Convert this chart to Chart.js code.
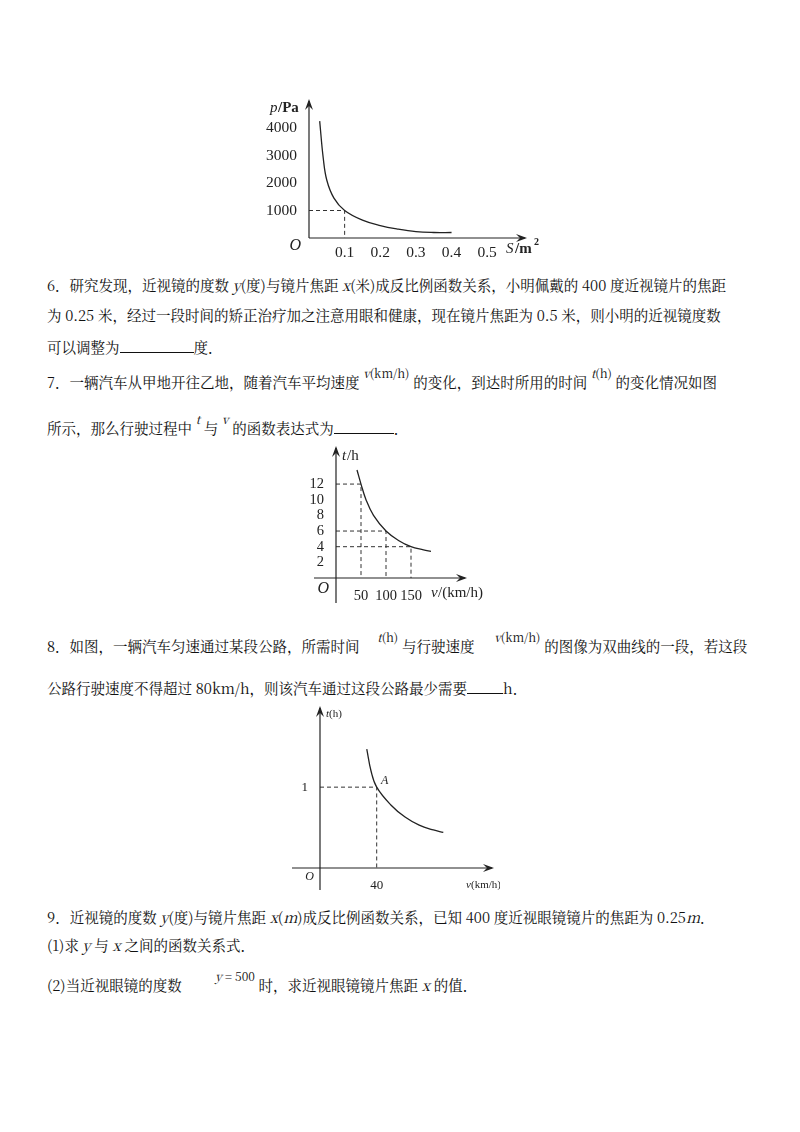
<!DOCTYPE html>
<html><head><meta charset="utf-8">
<script src="https://cdn.jsdelivr.net/npm/chart.js@4"></script>
<style>
body{margin:0;width:800px;height:1132px;background:#fff;position:relative;font-family:"Noto Serif CJK SC","Noto Sans CJK SC",serif;color:#111}
.t{position:absolute;left:47px;font-size:14.5px;white-space:nowrap;line-height:20px}
.u{display:inline-block;border-bottom:1px solid #111;height:15px;vertical-align:baseline}
.c{position:absolute}
.sm{font-size:12px;position:relative;top:-10px}
</style></head><body>
<div class="c" style="left:255px;top:95px;width:290px;height:170px"><canvas id="c1"></canvas></div>
<div class="c" style="left:300px;top:445px;width:200px;height:160px"><canvas id="c2"></canvas></div>
<div class="c" style="left:270px;top:705px;width:230px;height:185px"><canvas id="c3"></canvas></div>

<div class="t" style="top:275px">6．研究发现，近视镜的度数 <i>y</i>(度)与镜片焦距 <i>x</i>(米)成反比例函数关系，小明佩戴的 400 度近视镜片的焦距</div>
<div class="t" style="top:305px">为 0.25 米，经过一段时间的矫正治疗加之注意用眼和健康，现在镜片焦距为 0.5 米，则小明的近视镜度数</div>
<div class="t" style="top:337px">可以调整为<span class="u" style="width:74px"></span>度．</div>
<div class="t" style="top:372px">7．一辆汽车从甲地开往乙地，随着汽车平均速度 <span class="sm"><i>v</i>(km/h)</span> 的变化，到达时所用的时间 <span class="sm"><i>t</i>(h)</span> 的变化情况如图</div>
<div class="t" style="top:418px">所示，那么行驶过程中 <span class="sm"><i>t</i></span> 与 <span class="sm"><i>v</i></span> 的函数表达式为<span class="u" style="width:60px"></span>．</div>
<div class="t" style="top:636px">8．如图，一辆汽车匀速通过某段公路，所需时间 <span class="sm" style="margin-left:14px"><i>t</i>(h)</span> 与行驶速度 <span class="sm" style="margin-left:16px"><i>v</i>(km/h)</span> 的图像为双曲线的一段，若这段</div>
<div class="t" style="top:678px">公路行驶速度不得超过 80km/h，则该汽车通过这段公路最少需要<span class="u" style="width:36px"></span>h．</div>
<div class="t" style="top:907px">9．近视镜的度数 <i>y</i>(度)与镜片焦距 <i>x</i>(<i>m</i>)成反比例函数关系，已知 400 度近视眼镜镜片的焦距为 0.25<i>m</i>．</div>
<div class="t" style="top:935px">(1)求 <i>y</i> 与 <i>x</i> 之间的函数关系式．</div>
<div class="t" style="top:975px">(2)当近视眼镜的度数 <span class="sm" style="margin-left:30px"><i>y</i> = 500</span> 时，求近视眼镜镜片焦距 <i>x</i> 的值．</div>

<script>
// Chart 1: p (Pa) vs S (m^2)
const s1 = [0.03,0.04,0.05,0.07,0.1,0.15,0.2,0.25,0.3,0.35,0.4];
const p1 = [4250,2900,2100,1450,1000,650,450,320,230,200,200];
const xTicks1 = [0.1,0.2,0.3,0.4,0.5];
const yTicks1 = [1000,2000,3000,4000];
const guide1 = [[0,1000],[0.1,1000],[0.1,0]];
// Chart 2: t (h) vs v (km/h)
const v2 = [42,50,60,75,100,125,150,175,190];
const t2 = [13.8,12,10,8,6,4.8,4,3.6,3.4];
const xTicks2 = [50,100,150];
const yTicks2 = [2,4,6,8,10,12];
const guides2 = [[[0,12],[50,12],[50,0]],[[0,6],[100,6],[100,0]],[[0,4],[150,4],[150,0]]];
// Chart 3: t (h) vs v (km/h)
const v3 = [33,36,40,50,60,70,80,87];
const t3 = [1.47,1.2,1,0.78,0.63,0.53,0.47,0.44];
const xTicks3 = [40];
const yTicks3 = [1];
const guide3 = [[0,1],[40,1],[40,0]];

const FONT = '"Liberation Serif","DejaVu Serif",serif';
function pts(xs,ys){return xs.map((x,i)=>({x,y:ys[i]}));}
function dash(arr){return {data:arr.map(a=>({x:a[0],y:a[1]})),showLine:true,borderColor:'#333',borderWidth:1,borderDash:[4,3],pointRadius:0,tension:0};}

function axesPlugin(o){return {id:'ax',afterDraw(ch){
  const c=ch.ctx,xs=ch.scales.x,ys=ch.scales.y;
  const x0=xs.getPixelForValue(0),y0=ys.getPixelForValue(0);
  c.save();c.strokeStyle='#222';c.fillStyle='#222';c.lineWidth=1.2;
  c.beginPath();c.moveTo(x0-o.xl,y0);c.lineTo(o.xe,y0);c.stroke();
  c.beginPath();c.moveTo(x0,y0+o.yb);c.lineTo(x0,o.ye);c.stroke();
  c.beginPath();c.moveTo(o.xe+2,y0);c.lineTo(o.xe-9,y0-4);c.lineTo(o.xe-5,y0);c.lineTo(o.xe-9,y0+4);c.fill();
  c.beginPath();c.moveTo(x0,o.ye-2);c.lineTo(x0-4,o.ye+9);c.lineTo(x0,o.ye+5);c.lineTo(x0+4,o.ye+9);c.fill();
  c.font='italic '+o.fs+'px '+FONT;c.textAlign='right';c.textBaseline='top';
  c.fillText('O',x0-o.oo,y0+o.oy);
  c.textAlign='left';c.textBaseline='alphabetic';
  o.labels(c,x0,y0);
  if(o.extra)o.extra(c,xs,ys);
  c.restore();}};}

function make(id,cfg){
  return new Chart(document.getElementById(id),{type:'scatter',
    data:{datasets:[{data:cfg.curve,showLine:true,borderColor:'#222',borderWidth:1.3,pointRadius:0,tension:0.4},...cfg.guides.map(dash)]},
    options:{responsive:true,maintainAspectRatio:false,animation:false,
      layout:{padding:{top:cfg.pt,right:cfg.pr,left:0,bottom:0}},
      plugins:{legend:{display:false},tooltip:{enabled:false}},
      scales:{
        x:{type:'linear',min:0,max:cfg.xmax,grid:{display:false},border:{display:false},
          afterBuildTicks:s=>{s.ticks=cfg.xt.map(v=>({value:v}));},
          afterFit:s=>{s.height=cfg.xh;},
          ticks:{color:'#222',padding:cfg.xpad,font:{family:FONT,size:cfg.fs},callback:v=>v}},
        y:{type:'linear',min:0,max:cfg.ymax,grid:{display:false},border:{display:false},
          afterBuildTicks:s=>{s.ticks=cfg.yt.map(v=>({value:v}));},
          afterFit:s=>{s.width=cfg.yw;},
          ticks:{color:'#222',padding:4,font:{family:FONT,size:cfg.fs},callback:v=>v}}}},
    plugins:[axesPlugin(cfg.ax)]});
}

make('c1',{curve:pts(s1,p1),guides:[guide1],xmax:0.55,ymax:4600,xt:xTicks1,yt:yTicks1,pt:16.5,pr:40,xh:27,yw:54,fs:15.5,xpad:-2,
  ax:{xl:0,yb:0,xe:270,ye:6,fs:16,oo:8,oy:0,labels:(c,x0,y0)=>{
    c.font='italic 15px '+FONT;c.fillText('S',251,y0+15);c.font='bold 15px '+FONT;c.fillText('/m',260,y0+15);c.font='bold 10px '+FONT;c.fillText('2',279,y0+7);
    c.font='italic 15px '+FONT;c.fillText('p',15,17);c.font='bold 15px '+FONT;c.fillText('/Pa',23,17);}}});

make('c2',{curve:pts(v2,t2),guides:guides2,xmax:230,ymax:14.5,xt:xTicks2,yt:yTicks2,pt:19.5,pr:49,xh:27,yw:36,fs:14.5,xpad:1,
  ax:{xl:22,yb:25,xe:165,ye:3,fs:16,oo:7,oy:3,labels:(c,x0,y0)=>{
    c.font='italic 15px '+FONT;c.fillText('v',131,y0+19);c.font='15px '+FONT;c.fillText('/(km/h)',138,y0+19);
    c.font='italic 15px '+FONT;c.fillText('t',42,15);c.font='15px '+FONT;c.fillText('/h',47,15);}}});

make('c3',{curve:pts(v3,t3),guides:[guide3],xmax:115,ymax:1.75,xt:xTicks3,yt:yTicks3,pt:21.5,pr:17,xh:22,yw:50,fs:13,xpad:2,
  ax:{xl:28,yb:30,xe:222,ye:3,fs:12,oo:6,oy:3,labels:(c,x0,y0)=>{
    c.font='italic 11px '+FONT;c.fillText('v',196,y0+20);c.font='11px '+FONT;c.fillText('(km/h)',201,y0+20);
    c.font='italic 11px '+FONT;c.fillText('t',56,12);c.font='11px '+FONT;c.fillText('(h)',59,12);},
    extra:(c,xs,ys)=>{c.font='italic 12px '+FONT;c.fillText('A',xs.getPixelForValue(41)+3,ys.getPixelForValue(1.04));}}});
</script>
</body></html>
